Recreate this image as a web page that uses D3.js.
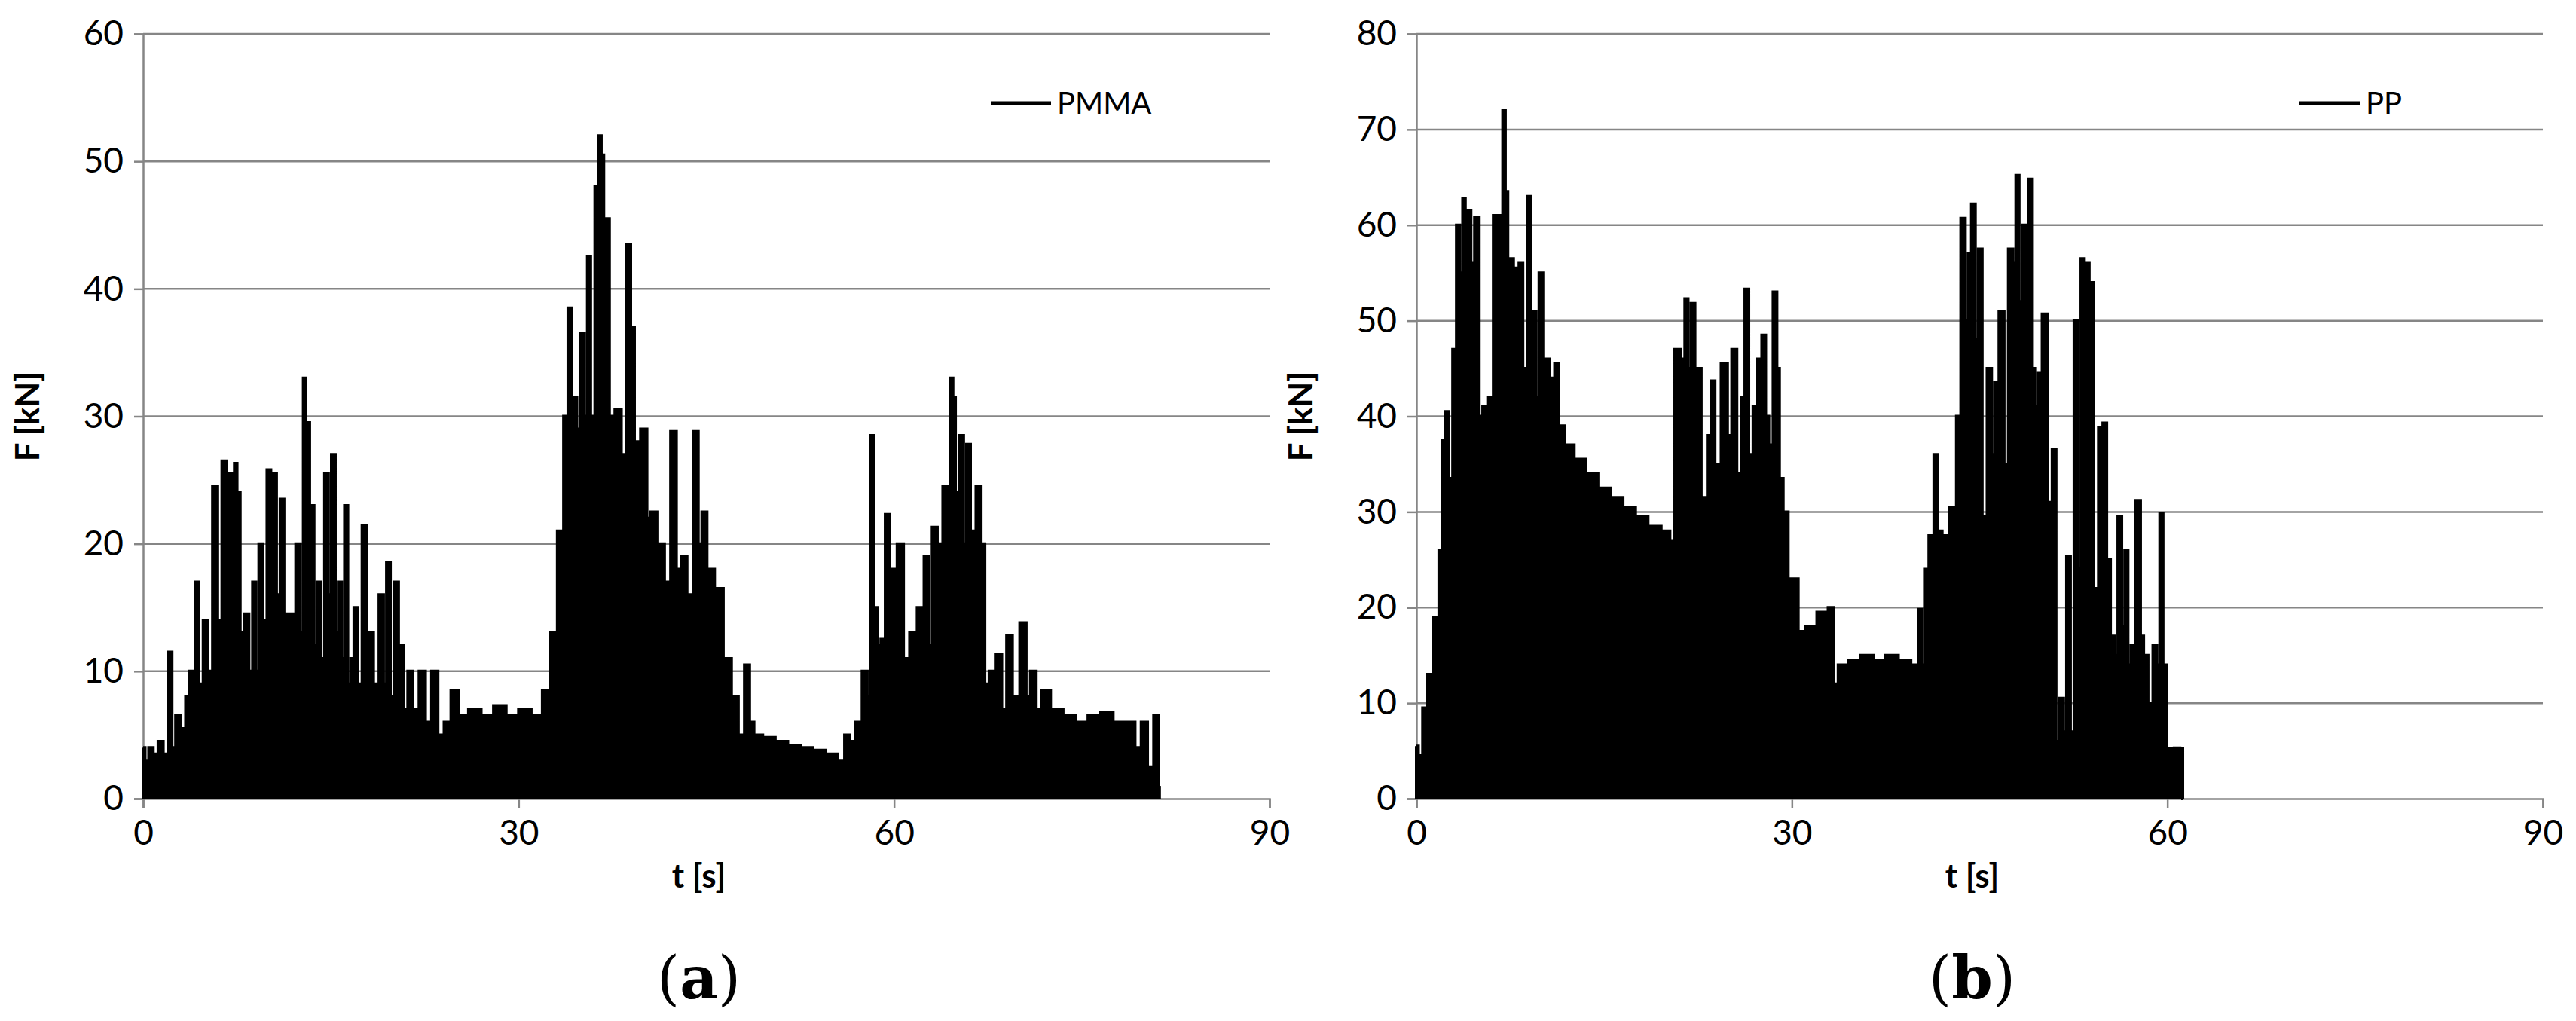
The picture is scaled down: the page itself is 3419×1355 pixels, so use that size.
<!DOCTYPE html>
<html>
<head>
<meta charset="utf-8">
<script src="https://cdn.jsdelivr.net/npm/d3@7"></script>
<style>
  body { margin: 0; background: #fff; }
  text { font-family: Lato, "Open Sans", sans-serif; }
</style>
</head>
<body>
<svg id="chart" width="3419" height="1355"></svg>
<script>
// PMMA force [t s, F kN], peaks and troughs
const pmmaSeries = [[0,4],[0.3,3],[0.6,4],[1,3.5],[1.4,4.5],[1.8,3.5],[2.2,11.5],[2.4,4],[2.8,6.5],[3.2,5.5],[3.6,8],[3.8,10],[4.1,7],[4.3,17],[4.6,9],[5,14],[5.3,10],[5.8,24.5],[6.1,14],[6.5,26.5],[6.8,17],[7,25.5],[7.2,18],[7.4,26.3],[7.6,24],[7.9,13],[8.3,14.5],[8.6,10],[8.9,17],[9.1,10],[9.4,20],[9.7,14],[10.1,25.8],[10.3,15],[10.5,25.5],[10.8,16],[11.1,23.5],[11.4,14.5],[12,14.5],[12.4,20],[12.7,13],[12.9,33],[13.1,29.5],[13.5,23],[13.8,12],[14,17],[14.3,11],[14.7,25.5],[14.9,16],[15.2,27],[15.5,13],[15.7,17],[16,11],[16.2,23],[16.5,9],[16.7,11],[17,15],[17.3,9],[17.7,21.4],[18,10],[18.2,13],[18.6,9],[19.1,16],[19.3,9],[19.6,18.5],[19.9,8],[20.2,17],[20.6,12],[21,7],[21.3,10],[21.8,7],[22.3,10],[22.8,6],[23.3,10],[23.8,5],[24.3,6],[24.9,8.5],[25.5,6.5],[26.5,7],[27.5,6.5],[28.5,7.3],[29.5,6.5],[30.5,7],[31.5,6.5],[32.3,8.5],[32.8,13],[33.4,21],[33.8,30],[34.1,38.5],[34.3,30],[34.5,31.5],[34.8,29],[35.1,36.5],[35.4,30],[35.6,42.5],[35.9,30],[36.3,48],[36.5,52],[36.7,50.5],[36.9,34],[37.1,45.5],[37.4,30],[38,30.5],[38.4,27],[38.8,43.5],[39.1,37],[39.4,28],[40.1,29],[40.4,22],[40.7,22.5],[41.4,20],[41.9,17],[42.4,28.8],[42.8,18],[43.2,19],[43.7,16],[44.2,28.8],[44.5,20],[44.8,22.5],[45.3,18],[46,16.5],[46.7,11],[47.3,8],[47.8,5],[48.3,10.5],[48.6,6],[49,5],[50,4.8],[51,4.5],[52,4.2],[53,4],[54,3.8],[55,3.5],[55.9,3],[56.2,5],[56.7,4.5],[57.2,6],[57.7,10],[58,8],[58.2,28.5],[58.5,15],[58.8,12],[59.1,12.5],[59.5,22.3],[59.8,12],[60,18],[60.5,20],[61,11],[61.5,13],[62.2,15],[62.6,19],[62.9,12],[63.2,21.3],[63.7,20],[64.1,24.5],[64.4,20],[64.6,33],[64.8,31.5],[65,24],[65.4,28.5],[65.7,20],[65.9,27.8],[66.3,21],[66.8,24.5],[67.1,20],[67.4,9],[67.8,10],[68.4,11.3],[68.8,7],[69.2,12.8],[69.7,8],[70.4,13.8],[70.7,8],[71.1,10],[71.6,7],[72,8.5],[73,7],[74,6.5],[75,6],[76,6.5],[77,6.8],[78,6],[79,6],[79.5,4],[80,6],[80.5,2.5],[81,6.5],[81.2,1]];

// PP force [t s, F kN], panel (b)
const ppSeries = [[0,5.5],[0.3,4.5],[0.7,9.5],[1.1,13],[1.6,19],[2,26],[2.2,37.5],[2.4,40.5],[2.7,33.5],[3.1,47],[3.3,60],[3.6,55],[3.8,62.8],[4,58],[4.2,61.5],[4.5,56],[4.8,60.8],[5.1,40],[5.5,41],[5.9,42],[6.4,61],[6.6,50],[6.8,61],[7,72],[7.2,63.5],[7.4,48],[7.6,56.5],[7.9,55.5],[8.1,46],[8.3,56],[8.7,45],[9,63],[9.2,48],[9.4,51],[9.7,42],[9.9,55],[10.3,46],[10.9,44],[11.2,45.5],[11.5,39],[12.2,37],[13,35.5],[14,34],[15,32.5],[16,31.5],[17,30.5],[18,29.5],[19,28.5],[20.1,28],[20.4,27],[20.9,47],[21.3,46],[21.6,52.3],[21.8,45],[22.1,51.8],[22.4,45],[23.1,31.5],[23.4,38],[23.7,43.7],[24,35],[24.7,45.5],[25,38],[25.4,47],[25.8,34],[26.1,42],[26.4,53.3],[26.7,36],[27.1,41],[27.4,46],[27.8,48.5],[28,40],[28.3,37],[28.7,53],[28.9,45],[29.1,33.5],[29.5,30],[29.9,23],[30.1,17],[30.3,23],[30.7,17.5],[31.5,18],[32.5,19.5],[33.3,20],[33.4,12],[34,14],[35,14.5],[36,15],[37,14.5],[38,15],[39,14.5],[40,14],[40.2,19.8],[40.5,14],[40.7,24],[41.2,27.5],[41.5,36],[41.8,28],[42.2,27.5],[43,30.5],[43.3,40],[43.7,60.7],[44,50],[44.2,57],[44.5,62.2],[44.8,48],[45,57.5],[45.4,29.5],[45.8,45],[46.1,36],[46.3,43.5],[46.8,51],[47.1,35],[47.5,57.5],[47.8,56],[48,65.2],[48.3,52],[48.5,60],[48.8,46],[49,64.8],[49.3,45],[49.5,41],[49.8,44.5],[50.2,50.7],[50.6,31],[51,36.5],[51.2,6],[51.6,10.5],[51.8,7],[52.1,25.3],[52.4,7],[52.7,50],[53,24],[53.2,56.5],[53.4,40],[53.6,56],[53.9,54],[54.3,22],[54.7,38.8],[55,39.3],[55.3,25],[55.6,17],[55.9,15],[56.2,29.5],[56.5,18],[56.7,26],[57,14],[57.2,16],[57.7,31.2],[58,17],[58.2,15],[58.7,10],[59,16],[59.3,14],[59.5,29.8],[59.8,14],[60,5],[60.3,5.2],[60.8,5.3],[61.2,5.2],[61.25,0]];

const xTicks = [0, 30, 60, 90];
const panels = [
  { data: pmmaSeries, name: 'PMMA', letter: 'a', yTicks: d3.range(0, 61, 10), yMax: 60,
    left: 190, right: 1685, legendX: 1315 },
  { data: ppSeries, name: 'PP', letter: 'b', yTicks: d3.range(0, 81, 10), yMax: 80,
    left: 1880, right: 3375, legendX: 3052 }
];

const svg = d3.select('#chart');
const plotTop = 45, plotBottom = 1060;
const grid = '#868686';

panels.forEach(p => {
  const x = d3.scaleLinear().domain([0, 90]).range([p.left, p.right]);
  const y = d3.scaleLinear().domain([0, p.yMax]).range([plotBottom, plotTop]);
  const g = svg.append('g');

  // grid lines
  g.selectAll('.grid').data(p.yTicks.filter(d => d > 0)).enter().append('line')
    .attr('x1', p.left).attr('x2', p.right)
    .attr('y1', d => y(d)).attr('y2', d => y(d))
    .attr('stroke', grid).attr('stroke-width', 2.5);

  const ya = g.append('g').attr('transform', `translate(${p.left},0)`)
    .call(d3.axisLeft(y).tickValues(p.yTicks).tickSize(12).tickPadding(14));
  const xa = g.append('g').attr('transform', `translate(0,${plotBottom})`)
    .call(d3.axisBottom(x).tickValues(xTicks).tickSize(12).tickPadding(16));
  [ya, xa].forEach(a => {
    a.select('.domain').attr('stroke', grid).attr('stroke-width', 2.5);
    a.selectAll('.tick line').attr('stroke', grid).attr('stroke-width', 2.5);
    a.selectAll('.tick text').attr('fill', '#000').style('font-size', '46px')
      .style('font-family', 'Lato, sans-serif');
  });

  // series: stepped silhouette plus a spike per reading
  const area = d3.area().curve(d3.curveStep).x(d => x(d[0])).y0(y(0)).y1(d => y(d[1]));
  g.append('path').datum(p.data).attr('d', area).attr('fill', '#000');
  g.selectAll('.spike').data(p.data).enter().append('line')
    .attr('x1', d => x(d[0])).attr('x2', d => x(d[0]))
    .attr('y1', y(0)).attr('y2', d => y(d[1]))
    .attr('stroke', '#000').attr('stroke-width', 4);
  g.append('path').datum(p.data)
    .attr('d', d3.line().curve(d3.curveStep).x(d => x(d[0])).y(d => y(d[1])))
    .attr('fill', 'none').attr('stroke', '#000').attr('stroke-width', 4);

  // legend
  g.append('line').attr('x1', p.legendX).attr('x2', p.legendX + 80)
    .attr('y1', 137).attr('y2', 137).attr('stroke', '#000').attr('stroke-width', 5);
  g.append('text').attr('x', p.legendX + 88).attr('y', 137).attr('dy', '0.35em')
    .style('font-size', '40px').text(p.name);

  // axis titles
  g.append('text').attr('x', (p.left + x(90)) / 2 - 10).attr('y', 1178)
    .attr('text-anchor', 'middle').style('font-size', '44px').style('font-weight', 'bold')
    .text('t [s]');
  g.append('text').attr('transform', `translate(${p.left - 138},${(plotTop + plotBottom) / 2}) rotate(-90)`)
    .attr('text-anchor', 'middle').style('font-size', '44px').style('font-weight', 'bold')
    .text('F [kN]');

  // panel letter
  const lt = g.append('text').attr('x', (p.left + x(90)) / 2 - 10).attr('y', 1325)
    .attr('text-anchor', 'middle').style('font-family', '"DejaVu Serif", "Liberation Serif", serif')
    .style('font-size', '78px');
  lt.append('tspan').text('(');
  lt.append('tspan').style('font-weight', 'bold').text(p.letter);
  lt.append('tspan').text(')');
});
</script>
</body>
</html>
